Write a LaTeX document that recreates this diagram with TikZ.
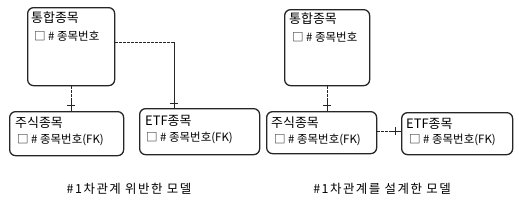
\documentclass[tikz,border=0pt]{standalone}
\usepackage{fontspec}
\setmainfont{Noto Sans CJK KR}
\newfontfamily\capfont[LetterSpace=12]{Noto Sans CJK KR}
\usetikzlibrary{calc}
\begin{document}
\begin{tikzpicture}[x=1bp,y=-1bp,
  entity/.style={draw=black!85,line width=1.3bp,rounded corners=6bp,anchor=north west,inner sep=0pt},
  title/.style={anchor=west,inner sep=0pt,font=\fontsize{13}{14}\selectfont},
  attr/.style={anchor=west,inner sep=0pt,font=\fontsize{11.5}{13}\selectfont},
  caption/.style={inner sep=0pt,font=\capfont\fontsize{12.5}{13}\selectfont},
  rel/.style={line width=0.9bp,black!85,dash pattern=on 2.5bp off 1.5bp},
  relsolid/.style={line width=0.9bp,black!85},
  tick/.style={line width=1bp,black!85}]
\useasboundingbox (0,0) rectangle (519,200);
% left diagram
\node[entity,minimum width=87bp,minimum height=78bp] (A) at (27,7) {};
\node[entity,minimum width=114bp,minimum height=44bp] (B) at (9,111) {};
\node[entity,minimum width=120bp,minimum height=46bp] (C) at (139,108) {};
\node[title] (At) at (31,18) {통합종목};
\node[attr] (Aa) at (34,36) {□ \# 종목번호};
\node[title] (Bt) at (15,123) {주식종목};
\node[attr] (Ba) at (17,140) {□ \# 종목번호(FK)};
\node[title] (Ct) at (145,121) {ETF종목};
\node[attr] (Ca) at (146,138) {□ \# 종목번호(FK)};
% A -> B
\coordinate (ab1) at (71,0);
\coordinate (ab2) at (71,100);
\draw[rel] (A.south -| ab1) -- (ab2);
\draw[relsolid] (ab2) -- (B.north -| ab1);
\draw[tick] (67,105) -- (75,105);
% A -> C
\coordinate (ac1) at (174,42);
\draw[rel] (A.east |- ac1) -- (ac1);
\draw[relsolid] (ac1) -- (C.north -| ac1);
\draw[tick] (170,103) -- (178,103);
% right diagram
\node[entity,minimum width=85bp,minimum height=76bp] (D) at (284,9) {};
\node[entity,minimum width=110bp,minimum height=42bp] (E) at (266,111) {};
\node[entity,minimum width=111bp,minimum height=42bp] (F) at (401,112) {};
\node[title] (Dt) at (289,19) {통합종목};
\node[attr] (Da) at (292,37) {□ \# 종목번호};
\node[title] (Et) at (271,123) {주식종목};
\node[attr] (Ea) at (274,140) {□ \# 종목번호(FK)};
\node[title] (Ft) at (406,124) {ETF종목};
\node[attr] (Fa) at (409,140) {□ \# 종목번호(FK)};
% D -> E
\coordinate (de1) at (327,0);
\coordinate (de2) at (327,100);
\draw[rel] (D.south -| de1) -- (de2);
\draw[relsolid] (de2) -- (E.north -| de1);
\draw[tick] (323,105) -- (331,105);
% E -> F
\coordinate (ef1) at (0,131);
\coordinate (ef2) at (390,131);
\draw[rel] (E.east |- ef1) -- (ef2);
\draw[relsolid] (ef2) -- (F.west |- ef1);
\draw[tick] (395,127) -- (395,135);
% captions
\node[caption] (cap1) at (129,189) {\#1차관계 위반한 모델};
\node[caption] (cap2) at (382,189) {\#1차관계를 설계한 모델};
\end{tikzpicture}
\end{document}
